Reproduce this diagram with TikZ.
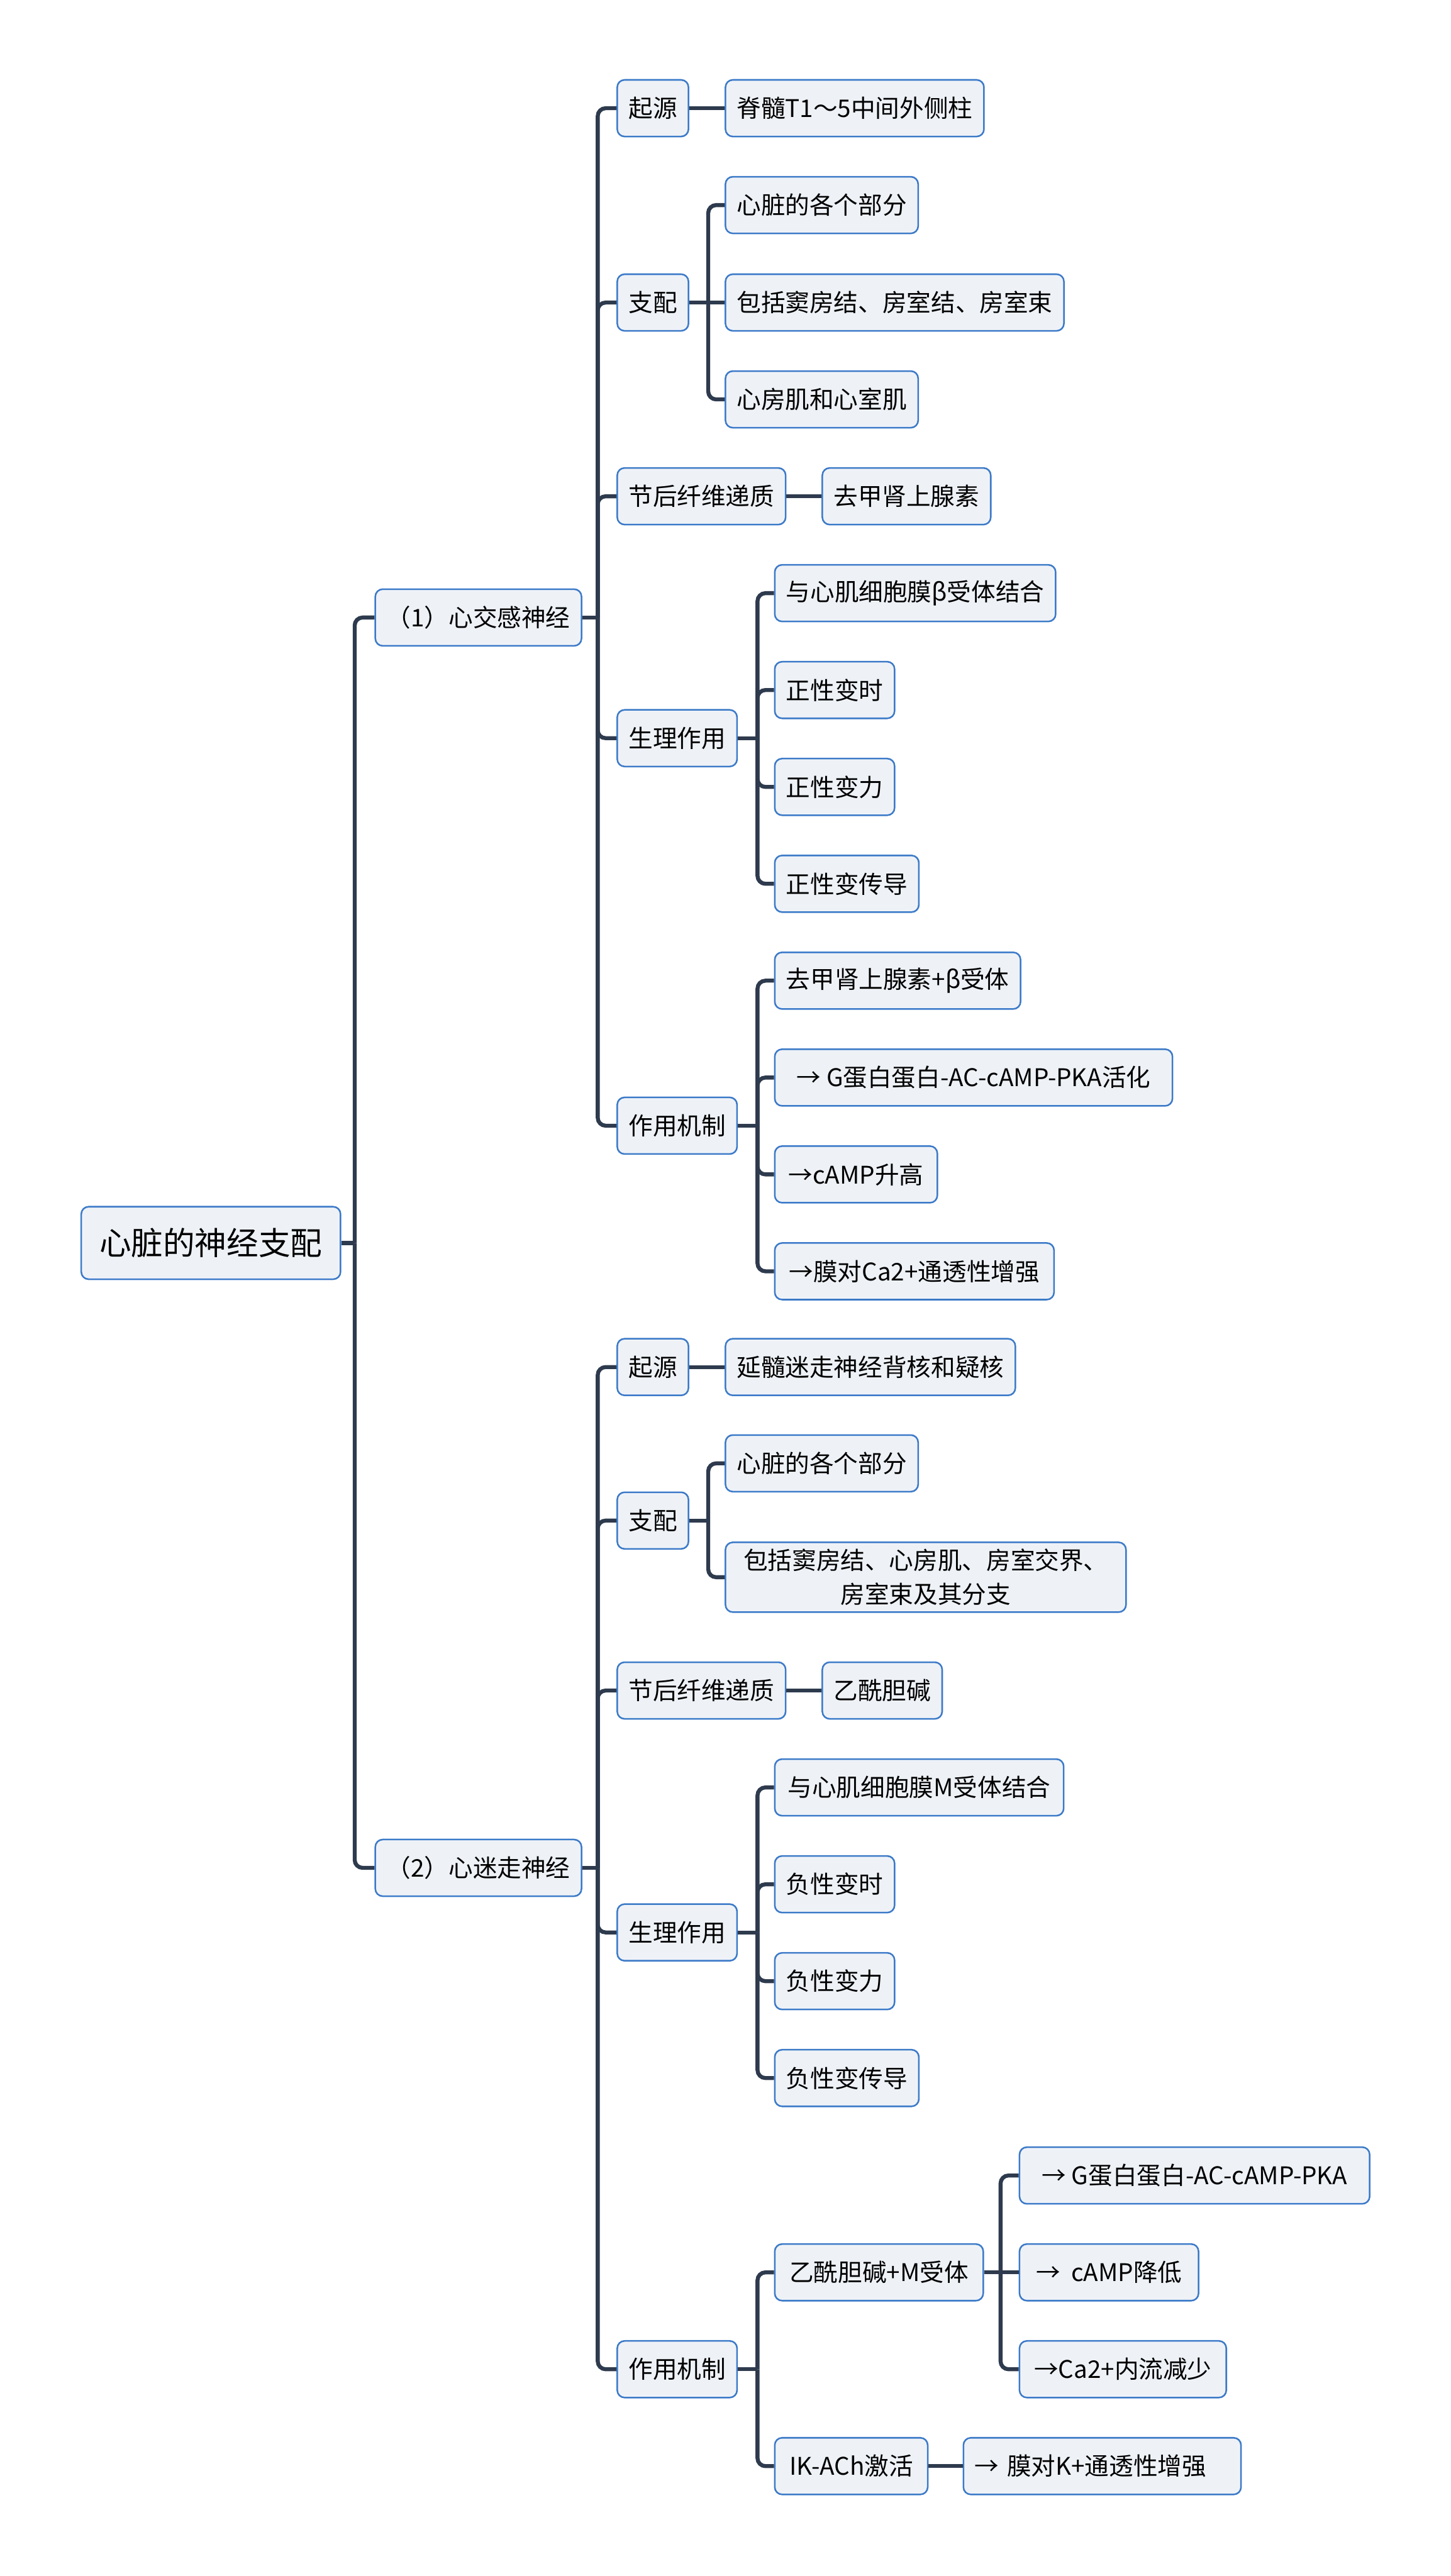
\documentclass[tikz,border=0pt]{standalone}
\usepackage{fontspec}
\setmainfont{Noto Sans CJK SC}
\definecolor{linkc}{HTML}{2E3A4D}
\definecolor{boxfill}{HTML}{EEF2F7}
\definecolor{boxline}{HTML}{3C7AC8}
\begin{document}
\begin{tikzpicture}[
  box/.style={draw=boxline,fill=boxfill,line width=0.8pt,rounded corners=0.13cm,anchor=west,
    inner xsep=0.2cm,minimum height=1cm,align=center,font=\fontsize{12.2pt}{17pt}\selectfont},
  rootbox/.style={box,inner xsep=0.32cm,minimum height=1.28cm,font=\fontsize{16pt}{19pt}\selectfont},
  link/.style={draw=linkc,line width=2pt,rounded corners=0.14cm}]
  \useasboundingbox (0,0) rectangle (25.6,-45.47);
  \node[rootbox] (root) at (1.42,-21.94) {心脏的神经支配};
  \node[box] (sym) at (6.61,-10.90) {（1）心交感神经};
  \node[box] (vag) at (6.61,-32.97) {（2）心迷走神经};
  % sympathetic
  \node[box] (s1) at (10.88,-1.91) {起源};
  \node[box] (s2) at (10.88,-5.34) {支配};
  \node[box] (s3) at (10.88,-8.76) {节后纤维递质};
  \node[box] (s4) at (10.88,-13.03) {生理作用};
  \node[box] (s5) at (10.88,-19.87) {作用机制};
  \node[box] (s11) at (12.79,-1.91) {脊髓T1～5中间外侧柱};
  \node[box] (s21) at (12.79,-3.62) {心脏的各个部分};
  \node[box] (s22) at (12.79,-5.34) {包括窦房结、房室结、房室束};
  \node[box] (s23) at (12.79,-7.05) {心房肌和心室肌};
  \node[box] (s31) at (14.50,-8.76) {去甲肾上腺素};
  \node[box] (s41) at (13.66,-10.47) {与心肌细胞膜β受体结合};
  \node[box] (s42) at (13.66,-12.18) {正性变时};
  \node[box] (s43) at (13.66,-13.89) {正性变力};
  \node[box] (s44) at (13.66,-15.60) {正性变传导};
  \node[box] (s51) at (13.66,-17.31) {去甲肾上腺素+β受体};
  \node[box,minimum width=7.02cm] (s52) at (13.66,-19.02) {→ G蛋白蛋白-AC-cAMP-PKA活化};
  \node[box,minimum width=2.87cm] (s53) at (13.66,-20.73) {→cAMP升高};
  \node[box,minimum width=4.93cm] (s54) at (13.66,-22.44) {→膜对Ca2+通透性增强};
  % vagal
  \node[box] (v1) at (10.88,-24.13) {起源};
  \node[box] (v2) at (10.88,-26.84) {支配};
  \node[box] (v3) at (10.88,-29.84) {节后纤维递质};
  \node[box] (v4) at (10.88,-34.11) {生理作用};
  \node[box] (v5) at (10.88,-41.82) {作用机制};
  \node[box] (v11) at (12.79,-24.13) {延髓迷走神经背核和疑核};
  \node[box] (v21) at (12.79,-25.83) {心脏的各个部分};
  \node[box,minimum width=7.07cm] (v22) at (12.79,-27.84) {包括窦房结、心房肌、房室交界、\\房室束及其分支};
  \node[box] (v31) at (14.50,-29.84) {乙酰胆碱};
  \node[box,minimum width=5.10cm] (v41) at (13.66,-31.55) {与心肌细胞膜M受体结合};
  \node[box] (v42) at (13.66,-33.26) {负性变时};
  \node[box] (v43) at (13.66,-34.97) {负性变力};
  \node[box] (v44) at (13.66,-36.68) {负性变传导};
  \node[box,minimum width=3.68cm] (v51) at (13.66,-40.11) {乙酰胆碱+M受体};
  \node[box,minimum width=2.70cm] (v52) at (13.66,-43.53) {IK-ACh激活};
  \node[box,minimum width=6.18cm] (v511) at (17.98,-38.40) {→ G蛋白蛋白-AC-cAMP-PKA};
  \node[box,minimum width=3.16cm] (v512) at (17.98,-40.11) {→\ \ cAMP降低};
  \node[box,minimum width=3.65cm] (v513) at (17.98,-41.82) {→Ca2+内流减少};
  \node[box,text width=4.5cm,align=left] (v521) at (16.99,-43.53) {→ 膜对K+通透性增强};
  % junctions
  \coordinate (rj) at (6.26,-21.94);
  \coordinate (symj) at (10.55,-10.90);
  \coordinate (vagj) at (10.55,-32.97);
  \coordinate (s2j) at (12.50,-5.34);
  \coordinate (s4j) at (13.37,-13.03);
  \coordinate (s5j) at (13.37,-19.87);
  \coordinate (v2j) at (12.50,-26.84);
  \coordinate (v4j) at (13.37,-34.11);
  \coordinate (v5j) at (13.37,-41.82);
  \coordinate (v51j) at (17.66,-40.11);
  % connectors
  \draw[link] (root.east) -- (rj);
  \foreach \c in {sym,vag} \draw[link] (rj) |- (\c.west);
  \draw[link] (sym.east) -- (symj);
  \foreach \c in {s1,s2,s3,s4,s5} \draw[link] (symj) |- (\c.west);
  \draw[link] (vag.east) -- (vagj);
  \foreach \c in {v1,v2,v3,v4,v5} \draw[link] (vagj) |- (\c.west);
  \draw[link] (s1) -- (s11);
  \draw[link] (s2.east) -- (s2j) -- (s22.west);
  \foreach \c in {s21,s23} \draw[link] (s2j) |- (\c.west);
  \draw[link] (s3) -- (s31);
  \draw[link] (s4.east) -- (s4j);
  \foreach \c in {s41,s42,s43,s44} \draw[link] (s4j) |- (\c.west);
  \draw[link] (s5.east) -- (s5j);
  \foreach \c in {s51,s52,s53,s54} \draw[link] (s5j) |- (\c.west);
  \draw[link] (v1) -- (v11);
  \draw[link] (v2.east) -- (v2j);
  \foreach \c in {v21,v22} \draw[link] (v2j) |- (\c.west);
  \draw[link] (v3) -- (v31);
  \draw[link] (v4.east) -- (v4j);
  \foreach \c in {v41,v42,v43,v44} \draw[link] (v4j) |- (\c.west);
  \draw[link] (v5.east) -- (v5j);
  \foreach \c in {v51,v52} \draw[link] (v5j) |- (\c.west);
  \draw[link] (v51.east) -- (v51j) -- (v512.west);
  \foreach \c in {v511,v513} \draw[link] (v51j) |- (\c.west);
  \draw[link] (v52) -- (v521);
\end{tikzpicture}
\end{document}
